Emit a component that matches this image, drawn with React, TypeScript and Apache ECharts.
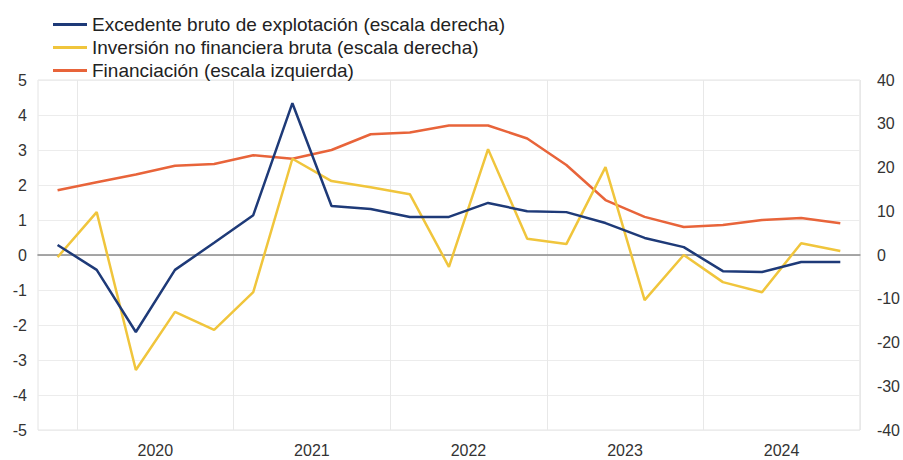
import React, { useEffect, useRef } from "react";
import * as echarts from "echarts";

const categories = [
  "2019 Q4",
  "2020 Q1", "2020 Q2", "2020 Q3", "2020 Q4",
  "2021 Q1", "2021 Q2", "2021 Q3", "2021 Q4",
  "2022 Q1", "2022 Q2", "2022 Q3", "2022 Q4",
  "2023 Q1", "2023 Q2", "2023 Q3", "2023 Q4",
  "2024 Q1", "2024 Q2", "2024 Q3", "2024 Q4",
];

// right scale
const excedente = [2.3, -3.4, -17.6, -3.4, 2.8, 9.1, 34.7, 11.2, 10.5, 8.7, 8.7, 11.9, 10.0, 9.8, 7.3, 3.9, 1.8, -3.7, -3.9, -1.6, -1.6];
// right scale
const inversion = [-0.5, 9.8, -26.3, -13.0, -17.1, -8.5, 22.0, 16.9, 15.5, 13.9, -2.7, 24.2, 3.7, 2.5, 20.1, -10.3, 0.0, -6.2, -8.5, 2.7, 0.9];
// left scale
const financiacion = [1.85, 2.08, 2.3, 2.55, 2.6, 2.85, 2.75, 3.0, 3.45, 3.5, 3.7, 3.7, 3.33, 2.57, 1.57, 1.09, 0.8, 0.86, 1.0, 1.06, 0.91];

const seriesNames = [
  "Excedente bruto de explotación (escala derecha)",
  "Inversión no financiera bruta (escala derecha)",
  "Financiación (escala izquierda)",
];

const BLUE = "#1e3a78";
const YELLOW = "#f0c53c";
const ORANGE = "#e8643a";

export default function App() {
  const ref = useRef<HTMLDivElement>(null);
  useEffect(() => {
    if (!ref.current) return;
    const chart = echarts.init(ref.current, null, { renderer: "svg" });
    const font = "'Liberation Sans', Arial, sans-serif";
    chart.setOption({
      animation: false,
      backgroundColor: "#ffffff",
      textStyle: { fontFamily: font },
      legend: {
        orient: "vertical",
        left: 48,
        top: 10,
        itemWidth: 34,
        itemHeight: 3,
        itemGap: 4,
        icon: "rect",
        textStyle: { fontSize: 19, color: "#222", fontFamily: font },
        data: seriesNames,
      },
      grid: {
        left: 38,
        right: 38,
        top: 80,
        bottom: 30,
        show: true,
        borderColor: "#e4e4e4",
        borderWidth: 1,
      },
      xAxis: {
        type: "category",
        data: categories,
        boundaryGap: true,
        axisLine: { show: true, onZero: true, lineStyle: { color: "#8a8a8a", width: 1.5 } },
        axisTick: { show: false },
        splitLine: {
          show: true,
          interval: (i: number) => i % 4 === 1,
          lineStyle: { color: "#e8e8e8", width: 1 },
        },
        axisLabel: {
          interval: 0,
          formatter: (v: string) => (v.endsWith("Q2") ? v.slice(0, 4) : ""),
          padding: [0, 0, 0, 39],
          fontSize: 16,
          color: "#333",
          margin: 12,
          fontFamily: font,
        },
      },
      yAxis: [
        {
          type: "value",
          min: -5,
          max: 5,
          interval: 1,
          position: "left",
          axisLine: { show: false },
          axisTick: { show: false },
          splitLine: { show: true, lineStyle: { color: "#ececec", width: 1 } },
          axisLabel: { fontSize: 16, color: "#333", margin: 11, fontFamily: font },
        },
        {
          type: "value",
          min: -40,
          max: 40,
          interval: 10,
          position: "right",
          axisLine: { show: false },
          axisTick: { show: false },
          splitLine: { show: false },
          axisLabel: { fontSize: 16, color: "#333", margin: 17, fontFamily: font },
        },
      ],
      series: [
        {
          name: seriesNames[0],
          type: "line",
          yAxisIndex: 1,
          data: excedente,
          symbol: "none",
          lineStyle: { color: BLUE, width: 2.5 },
          itemStyle: { color: BLUE },
          z: 4,
        },
        {
          name: seriesNames[1],
          type: "line",
          yAxisIndex: 1,
          data: inversion,
          symbol: "none",
          lineStyle: { color: YELLOW, width: 2.5 },
          itemStyle: { color: YELLOW },
          z: 3,
        },
        {
          name: seriesNames[2],
          type: "line",
          yAxisIndex: 0,
          data: financiacion,
          symbol: "none",
          lineStyle: { color: ORANGE, width: 2.5 },
          itemStyle: { color: ORANGE },
          z: 2,
        },
      ],
    });
    return () => chart.dispose();
  }, []);
  return <div ref={ref} style={{ width: 903, height: 460, position: "absolute", left: 0, top: 0 }} />;
}
